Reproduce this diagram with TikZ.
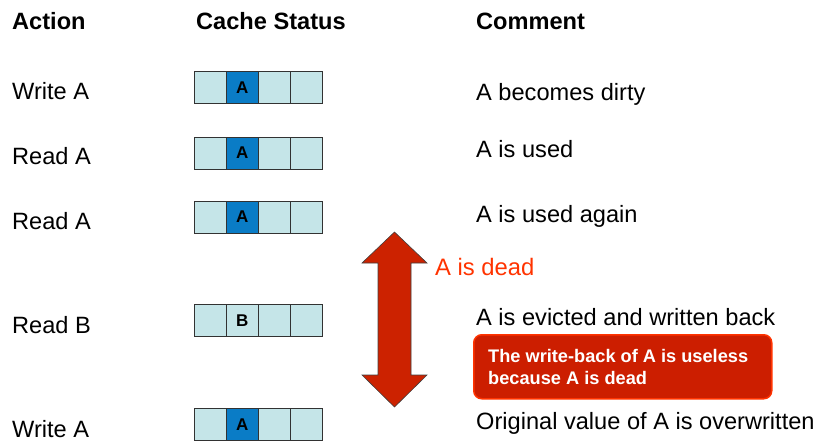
\documentclass[tikz,border=0pt]{standalone}
\usepackage{fontspec}
\setmainfont{Liberation Sans}
\definecolor{celllight}{RGB}{197,229,232}
\definecolor{celldark}{RGB}{10,124,198}
\definecolor{cellborder}{RGB}{50,50,50}
\definecolor{arrowred}{RGB}{204,34,0}
\definecolor{deadred}{RGB}{255,51,0}
\definecolor{calloutfill}{RGB}{204,30,0}
\begin{document}
\begin{tikzpicture}[x=1pt,y=-1pt,
  head/.style={anchor=base west,inner sep=0pt,font=\fontsize{23.6}{26}\selectfont\bfseries},
  txt/.style={anchor=base west,inner sep=0pt,font=\fontsize{23.6}{26}\selectfont},
  cellbox/.style={draw=cellborder,line width=0.9pt,fill=celllight,minimum width=32.2pt,minimum height=32pt,inner sep=0pt,anchor=north west,font=\fontsize{17}{17}\selectfont\bfseries},
  cellA/.style={cellbox,fill=celldark}
]
\useasboundingbox (0,0) rectangle (822,440);
% headings
\node[head] (hAction) at (12,29) {Action};
\node[head] (hCache) at (196,29) {Cache Status};
\node[head] (hComment) at (476,29) {Comment};
% actions
\node[txt] (a1) at (12,99) {Write A};
\node[txt] (a2) at (12,164) {Read A};
\node[txt] (a3) at (12,229) {Read A};
\node[txt] (a4) at (12,333) {Read B};
\node[txt] (a5) at (12,437) {Write A};
% comments
\node[txt] (c1) at (476,100) {A becomes dirty};
\node[txt] (c2) at (476,157) {A is used};
\node[txt] (c3) at (476,222) {A is used again};
\node[txt] (c4) at (476,325) {A is evicted and written back};
\node[txt] (c5) at (476,429) {Original value of A is overwritten};
% cache rows
\foreach \r/\y/\lab/\sty in {1/71/A/cellA, 2/136.5/A/cellA, 3/200.5/A/cellA, 4/304/B/cellbox, 5/408/A/cellA}{
  \node[cellbox] (r\r c1) at (193.6,\y) {};
  \node[\sty] (r\r c2) at (225.8,\y) {\lab};
  \node[cellbox] (r\r c3) at (258,\y) {};
  \node[cellbox] (r\r c4) at (290.2,\y) {};
}
% double arrow
\draw[fill=arrowred,draw=black!75,line width=0.6pt,line join=miter]
  (394.5,232) -- (427,263) -- (411,263) -- (411,375) -- (427,375) -- (394.5,407)
  -- (362,375) -- (378,375) -- (378,263) -- (362,263) -- cycle;
\node[anchor=base west,inner sep=0pt,text=deadred,font=\fontsize{23.8}{26}\selectfont] (dead) at (435,275) {A is dead};
% callout
\node[draw=deadred,line width=1.5pt,fill=calloutfill,rounded corners=8pt,anchor=north west,
  minimum width=298pt,minimum height=64pt,inner sep=0pt] (callout) at (473,334) {};
\node[anchor=base west,inner sep=0pt,text=white,font=\fontsize{18.2}{22}\selectfont\bfseries] (cl1) at (488,362) {The write-back of A is useless};
\node[anchor=base west,inner sep=0pt,text=white,font=\fontsize{18.2}{22}\selectfont\bfseries] (cl2) at (488,384) {because A is dead};
\end{tikzpicture}
\end{document}
